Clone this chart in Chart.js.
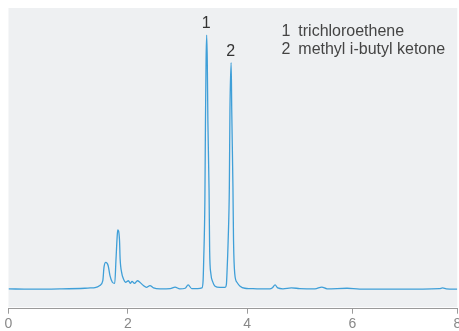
<!DOCTYPE html>
<html>
<head>
<meta charset="utf-8">
<script src="https://cdn.jsdelivr.net/npm/chart.js@4/dist/chart.umd.min.js"></script>
<style>
  html, body { margin: 0; padding: 0; background: #fff; }
  #wrap { width: 459px; height: 331px; }
</style>
</head>
<body>
<div id="wrap"><canvas id="chroma"></canvas></div>
<script>
// retention time (min) and detector signal
const times = [0, 0.36, 0.86, 1.28, 1.37, 1.45, 1.53, 1.58, 1.60, 1.63, 1.67, 1.70, 1.74, 1.78,
  1.80, 1.82, 1.83, 1.86, 1.87, 1.90, 1.92, 1.96, 2.01, 2.04, 2.07, 2.11, 2.16, 2.20, 2.26,
  2.31, 2.37, 2.43, 2.54, 2.71, 2.79, 2.87, 2.96, 3.01, 3.07, 3.17, 3.24, 3.26, 3.27, 3.29,
  3.30, 3.31, 3.32, 3.33, 3.34, 3.36, 3.37, 3.39, 3.42, 3.46, 3.54, 3.63, 3.65, 3.66, 3.68,
  3.70, 3.71, 3.73, 3.74, 3.76, 3.77, 3.79, 3.83, 3.88, 3.96, 4.05, 4.24, 4.43, 4.48, 4.53,
  4.58, 4.68, 4.84, 5.00, 5.29, 5.42, 5.52, 5.90, 6.14, 6.90, 7.66, 7.72, 7.79, 8.00];
const signal = [6.6, 6.5, 6.6, 6.8, 6.9, 7.0, 7.7, 9.3, 13.8, 15.4, 14.3, 11.0, 8.8, 8.4,
  16.0, 23.8, 26.2, 22.7, 16.6, 11.6, 10.2, 8.8, 9.3, 8.4, 9.1, 8.4, 9.3, 8.8, 7.7,
  7.1, 7.7, 6.9, 6.6, 6.7, 7.2, 6.6, 6.8, 7.9, 6.7, 6.7, 6.9, 9.3, 16.0, 36.0,
  62.7, 82.7, 91.0, 82.7, 62.7, 39.3, 19.3, 11.7, 9.0, 7.5, 7.1, 7.1, 8.0, 11.7, 22.7,
  40.7, 66.0, 81.8, 66.0, 40.7, 22.7, 11.7, 8.7, 7.5, 6.8, 6.7, 6.6, 6.6, 7.0, 7.9,
  6.9, 6.6, 6.9, 6.7, 6.6, 7.2, 6.6, 6.8, 6.5, 6.5, 6.7, 6.9, 6.6, 6.5];

const peakNumbers = ['1', '2'];
const peakTimes = [3.32, 3.73];
const peakHeights = [91.0, 81.8];
const compounds = ['trichloroethene', 'methyl i-butyl ketone'];
const xTicks = [0, 2, 4, 6, 8];

// the printed time axis is not uniform: 0-4 takes more room than 4-8
class BentScale extends Chart.LinearScale {
  getPixelForValue(value) {
    if (value === null || value === undefined) return NaN;
    const brk = 4, share = 0.532;
    let d;
    if (value <= brk) d = (value - this.min) / (brk - this.min) * share;
    else d = share + (value - brk) / (this.max - brk) * (1 - share);
    return this.getPixelForDecimal(d);
  }
  getValueForPixel(pixel) {
    const brk = 4, share = 0.532;
    const d = this.getDecimalForPixel(pixel);
    if (d <= share) return this.min + d / share * (brk - this.min);
    return brk + (d - share) / (1 - share) * (this.max - brk);
  }
}
BentScale.id = 'bent';
BentScale.defaults = Chart.LinearScale.defaults;
Chart.register(BentScale);

const plotBg = {
  id: 'plotBg',
  beforeDraw(chart) {
    const { ctx, chartArea: a } = chart;
    ctx.save();
    ctx.fillStyle = '#eef0f2';
    ctx.fillRect(a.left, a.top, a.right - a.left, a.bottom - a.top - 1.5);
    ctx.restore();
  }
};

const labelsPlugin = {
  id: 'labelsPlugin',
  afterDatasetsDraw(chart) {
    const { ctx } = chart;
    const xs = chart.scales.x, ys = chart.scales.y;
    ctx.save();
    ctx.fillStyle = '#333';
    ctx.font = '16px "Liberation Sans", Arial, sans-serif';
    ctx.textAlign = 'center';
    ctx.textBaseline = 'bottom';
    peakNumbers.forEach((n, i) => {
      ctx.fillText(n, xs.getPixelForValue(peakTimes[i]) - 0.5, ys.getPixelForValue(peakHeights[i]) - 3);
    });
    ctx.fillStyle = '#444';
    ctx.textAlign = 'left';
    ctx.textBaseline = 'alphabetic';
    compounds.forEach((c, i) => {
      const y = 35.5 + i * 18.7;
      ctx.fillText(String(i + 1), 281.5, y);
      ctx.fillText(c, 298.3, y);
    });
    ctx.restore();
  }
};

new Chart(document.getElementById('chroma'), {
  type: 'line',
  data: {
    datasets: [{
      data: times.map((t, i) => ({ x: t, y: signal[i] })),
      borderColor: '#3f9fd8',
      borderWidth: 1.3,
      pointRadius: 0,
      cubicInterpolationMode: 'monotone',
      fill: false
    }]
  },
  options: {
    responsive: true,
    maintainAspectRatio: false,
    animation: false,
    layout: { padding: { left: 8.5, right: 1.7, top: 8, bottom: -3.5 } },
    plugins: { legend: { display: false }, tooltip: { enabled: false } },
    scales: {
      x: {
        type: 'bent',
        min: 0,
        max: 8,
        afterBuildTicks: (scale) => { scale.ticks = xTicks.map(v => ({ value: v })); },
        afterFit: (scale) => { scale.paddingLeft = 0; scale.paddingRight = 0; },
        grid: { drawOnChartArea: false, drawTicks: true, tickLength: 5, color: '#9a9a9a' },
        border: { display: true, color: '#9a9a9a' },
        ticks: {
          padding: 2,
          color: '#888',
          maxRotation: 0,
          font: { size: 14, family: '"Liberation Sans", Arial, sans-serif', lineHeight: 1.2 }
        }
      },
      y: { display: false, min: 0, max: 100 }
    }
  },
  plugins: [plotBg, labelsPlugin]
});
</script>
</body>
</html>
